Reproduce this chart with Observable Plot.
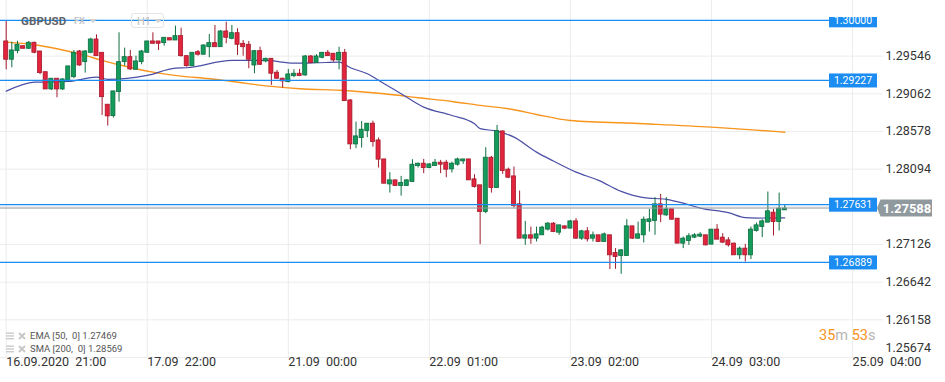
<!DOCTYPE html>
<html><head><meta charset="utf-8">
<script src="https://cdn.jsdelivr.net/npm/d3@7"></script>
<script src="https://cdn.jsdelivr.net/npm/@observablehq/plot@0.6"></script>
<style>
html,body{margin:0;padding:0;background:#fff;}
#wrap{position:relative;width:945px;height:382px;overflow:hidden;font-family:Roboto,"DejaVu Sans",sans-serif;}
#chart{position:absolute;left:0;top:0;}
#sym{position:absolute;left:21px;top:14px;font-size:11.5px;font-weight:bold;color:#5f6368;letter-spacing:0.1px;}
#fx{position:absolute;left:74px;top:16px;font-size:9px;font-weight:bold;color:#c4c4c4;}
#tf{position:absolute;left:131px;top:13px;width:33px;height:15px;border:1px solid #e4e4e4;border-radius:3px;box-sizing:border-box;}
#tf span{position:absolute;left:5px;top:1px;font-size:11px;color:#bdbdbd;}
.tri{position:absolute;width:0;height:0;border-left:4px solid transparent;border-right:4px solid transparent;border-top:4px solid #d0d0d0;}
#legend{position:absolute;left:6px;top:329px;font-size:9.5px;color:#555;line-height:13px;}
#legend .row{display:flex;align-items:center;height:13px;}
#legend svg{margin-right:4px;}
#timer{position:absolute;left:819px;top:327px;font-size:14.5px;color:#b5b5b5;}
#timer b{font-weight:normal;color:#f7931e;}
</style></head><body>
<div id="wrap">
  <div id="chart"></div>
  <div id="sym">GBPUSD</div>
  <div id="fx">FX</div>
  <div class="tri" style="left:89px;top:19px"></div>
  <div id="tf"><span>H1</span><div class="tri" style="left:22px;top:5px"></div></div>
  <div id="legend"></div>
  <div id="timer"><b>35</b>m <b>53</b>s</div>
</div>
<script>
// ---- data (GBPUSD, H1) ----
const opens = [1.29735,1.29500,1.29610,1.29674,1.29641,1.29718,1.29606,1.29340,1.29118,1.29256,
1.29118,1.29221,1.29276,1.29606,1.29469,1.29589,1.29760,1.29589,1.28922,1.28775,
1.29084,1.29469,1.29533,1.29371,1.29469,1.29589,1.29735,1.29735,1.29713,1.29777,
1.29747,1.29803,1.29546,1.29417,1.29597,1.29564,1.29661,1.29713,1.29661,1.29863,
1.29769,1.29841,1.29705,1.29692,1.29426,1.29610,1.29478,1.29512,1.29333,1.29256,
1.29212,1.29289,1.29320,1.29298,1.29542,1.29456,1.29525,1.29589,1.29577,1.29491,
1.29589,1.28977,1.28412,1.28493,1.28583,1.28678,1.28463,1.28219,1.27898,1.27950,
1.27877,1.27877,1.27928,1.28133,1.28164,1.28108,1.28133,1.28177,1.28177,1.28091,
1.28151,1.28194,1.28219,1.27963,1.27886,1.27543,1.28241,1.27851,1.28579,1.28087,
1.28001,1.27642,1.27201,1.27244,1.27201,1.27244,1.27317,1.27394,1.27278,1.27359,
1.27330,1.27423,1.27201,1.27295,1.27201,1.27244,1.27158,1.27244,1.27016,1.26978,
1.26978,1.27359,1.27201,1.27244,1.27414,1.27427,1.27642,1.27500,1.27577,1.27458,
1.27137,1.27170,1.27214,1.27227,1.27244,1.27124,1.27317,1.27214,1.27179,1.27137,
1.26987,1.27073,1.26987,1.27299,1.27350,1.27407,1.27535,1.27414,1.27565];
const highs = [1.29995,1.29726,1.29738,1.29677,1.29735,1.29726,1.29606,1.29340,1.29256,1.29256,
1.29256,1.29414,1.29619,1.29619,1.29619,1.29777,1.29821,1.29589,1.28922,1.29093,
1.29846,1.29649,1.29619,1.29546,1.29619,1.29735,1.29846,1.29735,1.29782,1.29777,
1.29931,1.29905,1.29546,1.29589,1.29619,1.29692,1.29824,1.29940,1.29876,1.29982,
1.29940,1.29898,1.29747,1.29735,1.29619,1.29661,1.29520,1.29512,1.29362,1.29263,
1.29375,1.29371,1.29375,1.29555,1.29555,1.29564,1.29589,1.29619,1.29577,1.29661,
1.29632,1.28986,1.28698,1.28707,1.28678,1.28711,1.28493,1.28219,1.28049,1.27950,
1.28001,1.27959,1.28216,1.28172,1.28219,1.28164,1.28219,1.28207,1.28207,1.28185,
1.28236,1.28219,1.28219,1.28023,1.27886,1.28370,1.28258,1.28656,1.28583,1.28108,
1.28121,1.27812,1.27423,1.27350,1.27350,1.27359,1.27407,1.27407,1.27372,1.27363,
1.27436,1.27458,1.27308,1.27343,1.27286,1.27244,1.27273,1.27244,1.27073,1.27060,
1.27445,1.27359,1.27414,1.27479,1.27577,1.27728,1.27770,1.27728,1.27577,1.27458,
1.27222,1.27265,1.27265,1.27278,1.27244,1.27317,1.27381,1.27265,1.27214,1.27145,
1.27093,1.27128,1.27350,1.27402,1.27445,1.27800,1.27577,1.27787,1.27629];
const lows = [1.29371,1.29397,1.29577,1.29638,1.29632,1.29577,1.29307,1.29118,1.29105,1.29012,
1.29105,1.29221,1.29256,1.29417,1.29328,1.29577,1.29546,1.28784,1.28647,1.28750,
1.28955,1.29417,1.29362,1.29371,1.29435,1.29589,1.29705,1.29619,1.29674,1.29747,
1.29747,1.29533,1.29405,1.29417,1.29546,1.29564,1.29525,1.29661,1.29661,1.29705,
1.29756,1.29555,1.29546,1.29384,1.29320,1.29426,1.29461,1.29170,1.29247,1.29135,
1.29204,1.29268,1.29289,1.29289,1.29448,1.29456,1.29512,1.29546,1.29469,1.29371,
1.28968,1.28344,1.28357,1.28365,1.28498,1.28377,1.28108,1.27907,1.27787,1.27877,
1.27748,1.27877,1.27928,1.28108,1.28036,1.28100,1.28133,1.28036,1.27984,1.28044,
1.28133,1.28155,1.27950,1.27851,1.27124,1.27522,1.27787,1.27851,1.28027,1.27972,
1.27594,1.27201,1.27115,1.27128,1.27158,1.27244,1.27299,1.27278,1.27244,1.27317,
1.27330,1.27192,1.27179,1.27158,1.27158,1.27158,1.27158,1.26803,1.26807,1.26743,
1.26978,1.27192,1.27192,1.27145,1.27286,1.27244,1.27407,1.27488,1.27436,1.27137,
1.27073,1.27115,1.27201,1.27214,1.27106,1.27124,1.27188,1.27137,1.27093,1.26987,
1.26932,1.26901,1.26932,1.27286,1.27214,1.27402,1.27235,1.27299,1.27565];
const closes = [1.29500,1.29619,1.29692,1.29641,1.29718,1.29589,1.29328,1.29118,1.29256,1.29118,
1.29247,1.29414,1.29589,1.29426,1.29606,1.29760,1.29546,1.29019,1.28772,1.29093,
1.29469,1.29533,1.29375,1.29478,1.29606,1.29735,1.29705,1.29705,1.29782,1.29747,
1.29803,1.29546,1.29417,1.29589,1.29564,1.29683,1.29713,1.29661,1.29863,1.29782,
1.29841,1.29692,1.29661,1.29500,1.29610,1.29435,1.29512,1.29320,1.29256,1.29221,
1.29311,1.29320,1.29289,1.29542,1.29456,1.29542,1.29589,1.29546,1.29491,1.29589,
1.28968,1.28412,1.28515,1.28601,1.28678,1.28442,1.28216,1.27907,1.27950,1.27877,
1.27915,1.27950,1.28151,1.28164,1.28108,1.28155,1.28177,1.28151,1.28087,1.28164,
1.28219,1.28219,1.27950,1.27864,1.27543,1.28241,1.27851,1.28583,1.28069,1.27984,
1.27620,1.27201,1.27244,1.27201,1.27256,1.27343,1.27394,1.27286,1.27372,1.27330,
1.27423,1.27201,1.27295,1.27192,1.27244,1.27158,1.27256,1.26987,1.26965,1.27051,
1.27359,1.27201,1.27256,1.27445,1.27449,1.27642,1.27509,1.27577,1.27445,1.27137,
1.27201,1.27231,1.27244,1.27253,1.27115,1.27317,1.27188,1.27150,1.27115,1.26987,
1.27073,1.26987,1.27317,1.27372,1.27423,1.27552,1.27414,1.27586,1.27588];

// moving averages read at bar indices
const emaBars = [0,5,11,16,18,25,30,32,40,46,51,55,59,61,64,67,70,74,79,83,84,87,90,94,97,101,105,109,113,117,120,123,128,131,133,138];
const emaVals = [1.29096,1.29212,1.29221,1.29276,1.29247,1.29298,1.29392,1.29397,1.29491,1.29491,1.29456,1.29461,1.29469,1.29397,1.29320,1.29191,1.29063,1.28891,1.28784,1.28678,1.28614,1.28583,1.28506,1.28313,1.28198,1.28056,1.27950,1.27809,1.27728,1.27706,1.27658,1.27594,1.27535,1.27471,1.27466,1.27469];
const smaBars = [0,5,9,14,17,20,23,26,31,36,40,47,52,60,67,73,79,84,90,94,100,113,125,133,138];
const smaVals = [1.29726,1.29692,1.29641,1.29555,1.29491,1.29435,1.29384,1.29340,1.29289,1.29256,1.29221,1.29157,1.29127,1.29105,1.29063,1.29012,1.28964,1.28913,1.28858,1.28797,1.28720,1.28678,1.28634,1.28595,1.28569];

const yTicks = [1.29546,1.29062,1.28578,1.28094,1.27610,1.27126,1.26642,1.26158,1.25674];
const yTickLabels = ["1.29546","1.29062","1.28578","1.28094","","1.27126","1.26642","1.26158","1.25674"];
const xTickBars = [0,25,50,75,100,125,150];
const xTickLabels = ["16.09.2020\u00a0\u00a021:00","17.09\u00a0\u00a022:00","21.09\u00a0\u00a000:00","22.09\u00a0\u00a001:00","23.09\u00a0\u00a002:00","24.09\u00a0\u00a003:00","25.09\u00a0\u00a004:00"];
const levels = [1.30000,1.29227,1.27631,1.26889];
const lastPrice = 1.27588;
const legendItems = ["EMA [50,  0] 1.27469","SMA [200,  0] 1.28569"];

// ---- build ----
const candles = opens.map((o,i)=>({i, o, h: highs[i], l: lows[i], c: closes[i]}));
const up = candles.filter(d=>d.c>=d.o), dn = candles.filter(d=>d.c<d.o);
const ema = emaBars.map((b,k)=>({i:b, v:emaVals[k]}));
const sma = smaBars.map((b,k)=>({i:b, v:smaVals[k]}));
const G="#149a5b", GD="#0d6e40", R="#e2243d", RD="#a31a2c";
const yLab = yTicks.map((v,k)=>({v, t:yTickLabels[k], last: k===yTicks.length-1})).filter(d=>d.t);

const plot = Plot.plot({
  width: 945, height: 382,
  marginTop: 0, marginRight: 62, marginBottom: 25, marginLeft: 0,
  x: {type:"linear", domain:[-1.01,150], range:[0,852], axis:null},
  y: {domain:[1.25674,1.30261], axis:null},
  style: {fontFamily:"Roboto, sans-serif", background:"#fff", overflow:"visible"},
  marks: [
    Plot.ruleY(yTicks, {stroke:"#ececec"}),
    Plot.ruleX(xTickBars, {stroke:"#ececec"}),
    Plot.line(sma, {x:"i", y:"v", stroke:"#f7951d", strokeWidth:1.4, curve:"monotone-x"}),
    Plot.line(ema, {x:"i", y:"v", stroke:"#4b4fa6", strokeWidth:1.2, curve:"monotone-x"}),
    Plot.ruleX(up, {x:"i", y1:"l", y2:"h", stroke:GD, strokeWidth:1}),
    Plot.ruleX(dn, {x:"i", y1:"l", y2:"h", stroke:RD, strokeWidth:1}),
    Plot.rect(up, {x1:d=>d.i-0.36, x2:d=>d.i+0.36, y1:"o", y2:"c", fill:G, stroke:GD, strokeWidth:0.8}),
    Plot.rect(dn, {x1:d=>d.i-0.36, x2:d=>d.i+0.36, y1:"o", y2:"c", fill:R, stroke:RD, strokeWidth:0.8}),
    Plot.text(yLab.filter(d=>!d.last), {y:"v", frameAnchor:"right", dx:2, textAnchor:"start", text:"t", fill:"#333", fontSize:12.5}),
    Plot.text(yLab.filter(d=>d.last), {y:"v", frameAnchor:"right", dx:2, dy:-10, textAnchor:"start", text:"t", fill:"#333", fontSize:12.5}),
    Plot.text(xTickBars, {x:d=>d, frameAnchor:"bottom", dy:8.5, textAnchor:"start", text:(d,k)=>xTickLabels[k], fill:"#333", fontSize:12.5})
  ]
});
document.getElementById("chart").appendChild(plot);

// level lines with value boxes, and last-price tag (positions from the plot's scales)
const ys = plot.scale("y"), xs = plot.scale("x");
const xEnd = xs.range[1];
const svg = d3.select(plot);
svg.append("defs").append("clipPath").attr("id","clipTop")
  .append("rect").attr("x",0).attr("y",17).attr("width",945).attr("height",365);
const g = svg.append("g").attr("clip-path","url(#clipTop)");
const BLUE = "#1a8cf2";
const yp = ys.apply(lastPrice);
g.append("line").attr("x1",0).attr("x2",xEnd+25).attr("y1",yp).attr("y2",yp).attr("stroke","#8f999e").attr("stroke-width",1);
levels.forEach(v=>{
  const yy = ys.apply(v);
  g.append("line").attr("x1",0).attr("x2",xEnd-23).attr("y1",yy).attr("y2",yy).attr("stroke",BLUE).attr("stroke-width",1.3);
  g.append("rect").attr("x",xEnd-23).attr("y",yy-7).attr("width",48).attr("height",14).attr("fill",BLUE);
  g.append("text").attr("x",xEnd+1).attr("y",yy).attr("dy","0.35em").attr("text-anchor","middle")
    .attr("fill","#fff").attr("font-size",10.5).attr("font-family","Roboto, sans-serif").text(v.toFixed(5));
});
const tx = xEnd+25;
g.append("path").attr("d",`M${tx},${yp} L${tx+3.5},${yp-8.5} L${tx+55},${yp-8.5} L${tx+55},${yp+8.5} L${tx+3.5},${yp+8.5} Z`).attr("fill","#8f999e");
g.append("text").attr("x",tx+30).attr("y",yp).attr("dy","0.36em").attr("text-anchor","middle")
  .attr("fill","#fff").attr("font-size",13).attr("font-weight","bold").attr("font-family","Roboto, sans-serif").text(lastPrice.toFixed(5));

// legend
const icon = `<svg width="8" height="8" viewBox="0 0 8 8"><rect x="0" y="0.5" width="8" height="1.3" fill="#c8c8c8"/><rect x="0" y="3.3" width="8" height="1.3" fill="#c8c8c8"/><rect x="0" y="6.1" width="8" height="1.3" fill="#c8c8c8"/></svg><svg width="8" height="8" viewBox="0 0 8 8"><path d="M1 1 L7 7 M7 1 L1 7" stroke="#c8c8c8" stroke-width="2"/></svg>`;
document.getElementById("legend").innerHTML = legendItems.map(t=>`<div class="row">${icon}<span style="white-space:pre">${t}</span></div>`).join("");
</script>
</body></html>
